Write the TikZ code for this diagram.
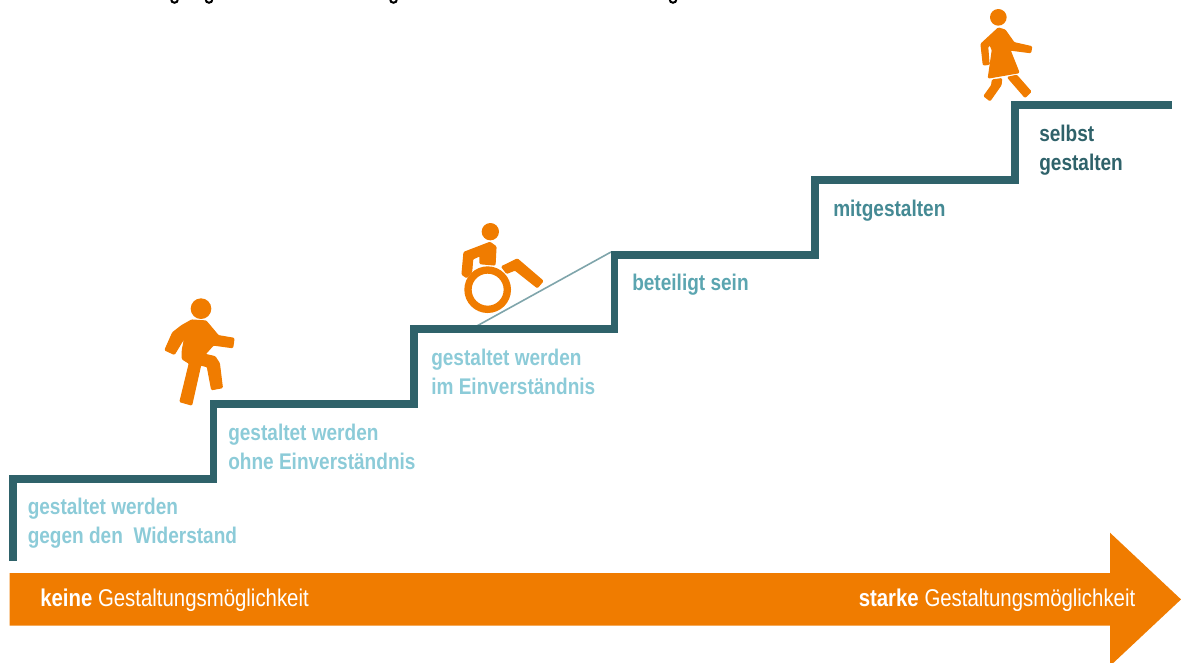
\documentclass[tikz,border=0pt]{standalone}
\usepackage{fontspec}
\setmainfont{Liberation Sans}[FakeStretch=0.84]
\definecolor{stairteal}{HTML}{2F626A}
\definecolor{rampteal}{HTML}{7FA5AB}
\definecolor{barorange}{HTML}{F07C00}
\definecolor{paleteal}{HTML}{8CCBD8}
\definecolor{midteal}{HTML}{5BA5B0}
\definecolor{deepteal}{HTML}{458A94}
\begin{document}
\begin{tikzpicture}[
  x=0.75pt, y=-0.75pt,
  stair/.style={draw=stairteal, line width=5.6pt, miter limit=10},
  ramp/.style={draw=rampteal, line width=1.2pt},
  figure/.style={fill=barorange, draw=barorange, line width=0.9pt, line join=round, rounded corners=0.7pt},
  zoomed/.style={x=0.25pt, y=-0.25pt},
  label/.style={anchor=north west, inner sep=0pt, align=left, font=\fontsize{17}{21.75}\selectfont\bfseries},
  barlabel/.style={anchor=base west, inner sep=0pt, text=white, font=\fontsize{18.2}{20}\selectfont},
  cutoff/.style={draw=black, line width=1.5pt}
  ]
  \useasboundingbox (0,0) rectangle (1181,662);
  \clip (0,0) rectangle (1181,662);
  % cut off line at the top edge
  \draw[cutoff] (171,-1) .. controls (171,4) and (178,4) .. (178,-1);
  \draw[cutoff] (205.5,-1) .. controls (205.5,4) and (212.5,4) .. (212.5,-1);
  \draw[cutoff] (390,-1) .. controls (390,4) and (397,4) .. (397,-1);
  \draw[cutoff] (669.5,-1) .. controls (669.5,4) and (676.5,4) .. (676.5,-1);
  % arrow
  \fill[barorange] (9.5,573) -- (1110,573) -- (1110,532.7) -- (1181,599.4)
    -- (1110,666) -- (1110,625.5) -- (9.5,625.5) -- cycle;
  \node[barlabel] (none) at (40,606.7) {\textbf{keine} Gestaltungsmöglichkeit};
  \node[barlabel] (strong) at (858.5,606.7) {\textbf{starke} Gestaltungsmöglichkeit};
  % stairs
  \coordinate (rampfoot) at (475,327);
  \coordinate (ramptop) at (611,252);
  \draw[ramp] (rampfoot) -- (ramptop);
  \draw[stair] (13,561) -- (13,479) -- (213.7,479) -- (213.7,404) -- (414,404)
    -- (414,329) -- (614.5,329) -- (614.5,255) -- (815,255) -- (815,180)
    -- (1015,180) -- (1015,105) -- (1172,105);
  % labels
  \node[label, text=paleteal] (against) at (27.5,497.5) {gestaltet werden\\gegen den\ \ Widerstand};
  \node[label, text=paleteal] (without) at (228,423.5) {gestaltet werden\\ohne Einverständnis};
  \node[label, text=paleteal] (with) at (431,348.5) {gestaltet werden\\im Einverständnis};
  \node[label, text=midteal] (involved) at (632,273.5) {beteiligt sein};
  \node[label, text=deepteal] (shape) at (833,199.5) {mitgestalten};
  \node[label, text=stairteal] (self) at (1039,124.5) {selbst\\gestalten};
  % walking figure
  \begin{scope}[shift={(150,285)}, zoomed]
    \fill[barorange] (153,71) circle (31);
    \path[figure] (125,105) -- (168,108) -- (205,152) -- (252,160) -- (248,188)
      -- (190,180) -- (165,208) -- (195,215) -- (208,235) -- (217,308) -- (185,314)
      -- (172,245) -- (152,240) -- (125,360) -- (90,350) -- (118,235) -- (97,222)
      -- (97,195) -- (105,155) -- (73,208) -- (45,195) -- (68,143) -- (95,122) -- cycle;
  \end{scope}
  % wheelchair figure
  \begin{scope}[shift={(440,215)}, zoomed]
    \fill[barorange] (151,50) circle (26);
    \path[figure] (72,112) -- (150,82) -- (168,95) -- (165,150) -- (120,146)
      -- (120,122) -- (98,132) -- (95,170) -- (80,188) -- (66,178) -- cycle;
    \draw[barorange, line width=5.5pt] (143,224) circle (59);
    \path[figure] (185,155) -- (232,132) -- (309,198) -- (292,218) -- (225,165) -- (200,175) -- cycle;
  \end{scope}
  % walking woman
  \begin{scope}[shift={(965,0)}, zoomed]
    \fill[barorange] (100,52) circle (25);
    \path[figure] (100,84) -- (120,90) -- (147,128) -- (200,140) -- (197,158)
      -- (135,150) -- (162,218) -- (70,234) -- (82,150) -- (75,135) -- (68,140)
      -- (72,193) -- (55,195) -- (48,132) -- cycle;
    \path[figure] (82,240) -- (110,236) -- (108,255) -- (75,302) -- (57,288) -- (80,256) -- cycle;
    \path[figure] (128,232) -- (155,226) -- (198,275) -- (180,292) -- cycle;
  \end{scope}
\end{tikzpicture}
\end{document}
